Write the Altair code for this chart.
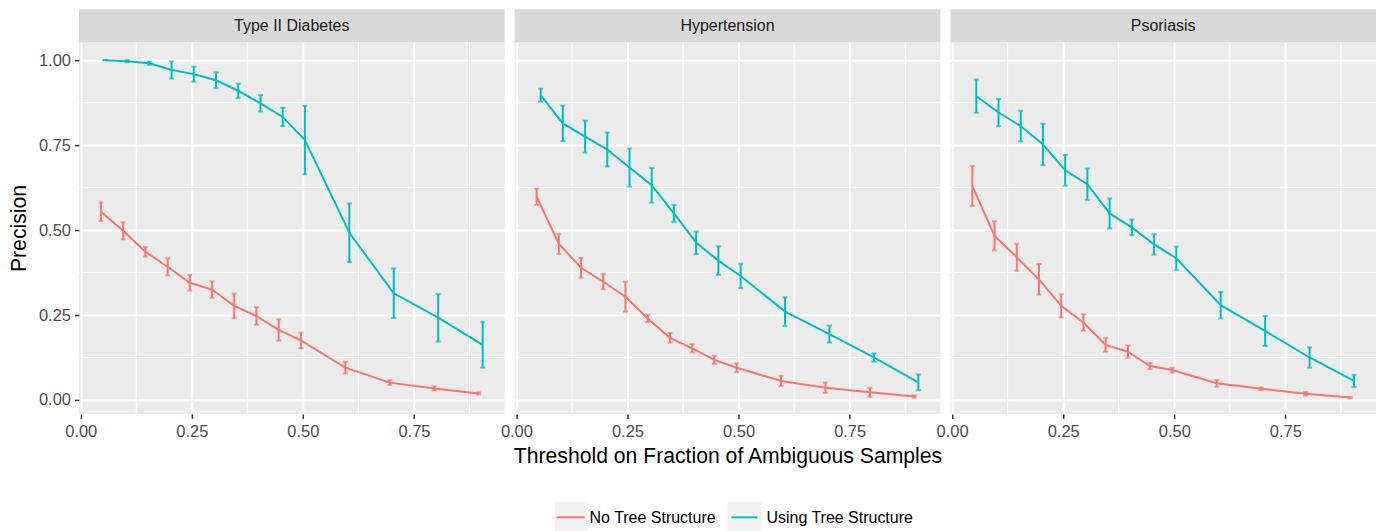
import altair as alt
import pandas as pd

# ---------------- data ----------------
panels = ["Type II Diabetes", "Hypertension", "Psoriasis"]
series = ["No Tree Structure", "Using Tree Structure"]
colors = ["#F8766D", "#00BFC4"]
thresholds = [0.05, 0.1, 0.15, 0.2, 0.25, 0.3, 0.35, 0.4, 0.45, 0.5, 0.6, 0.7, 0.8, 0.9]

t2d_no = [0.554, 0.498, 0.436, 0.392, 0.345, 0.325, 0.277, 0.247, 0.206, 0.175, 0.095, 0.051, 0.034, 0.019]
t2d_no_err = [0.027, 0.025, 0.014, 0.025, 0.023, 0.024, 0.036, 0.026, 0.031, 0.023, 0.017, 0.007, 0.006, 0.003]
t2d_tree = [1.0, 0.997, 0.991, 0.971, 0.959, 0.941, 0.910, 0.873, 0.833, 0.765, 0.492, 0.314, 0.242, 0.162]
t2d_tree_err = [0.0, 0.003, 0.005, 0.025, 0.022, 0.023, 0.021, 0.024, 0.027, 0.101, 0.086, 0.073, 0.070, 0.067]

hyp_no = [0.598, 0.459, 0.389, 0.348, 0.304, 0.240, 0.183, 0.152, 0.118, 0.095, 0.056, 0.036, 0.023, 0.010]
hyp_no_err = [0.024, 0.029, 0.029, 0.022, 0.044, 0.011, 0.014, 0.012, 0.012, 0.013, 0.015, 0.015, 0.013, 0.003]
hyp_tree = [0.897, 0.814, 0.775, 0.737, 0.684, 0.632, 0.549, 0.463, 0.410, 0.365, 0.260, 0.194, 0.125, 0.052]
hyp_tree_err = [0.019, 0.052, 0.047, 0.050, 0.056, 0.051, 0.025, 0.033, 0.042, 0.036, 0.042, 0.025, 0.012, 0.023]

pso_no = [0.630, 0.483, 0.420, 0.355, 0.277, 0.228, 0.162, 0.142, 0.100, 0.088, 0.049, 0.033, 0.018, 0.007]
pso_no_err = [0.059, 0.043, 0.040, 0.045, 0.034, 0.024, 0.020, 0.018, 0.009, 0.007, 0.010, 0.004, 0.005, 0.002]
pso_tree = [0.894, 0.846, 0.806, 0.752, 0.676, 0.635, 0.549, 0.508, 0.458, 0.417, 0.279, 0.203, 0.125, 0.056]
pso_tree_err = [0.049, 0.040, 0.045, 0.061, 0.045, 0.046, 0.044, 0.023, 0.030, 0.034, 0.039, 0.044, 0.030, 0.018]

x_ticks = [0.0, 0.25, 0.5, 0.75]
y_ticks = [0.0, 0.25, 0.5, 0.75, 1.0]
x_minor = [0.125, 0.375, 0.625, 0.875]
y_minor = [0.125, 0.375, 0.625, 0.875]

values = {
    panels[0]: [(t2d_no, t2d_no_err), (t2d_tree, t2d_tree_err)],
    panels[1]: [(hyp_no, hyp_no_err), (hyp_tree, hyp_tree_err)],
    panels[2]: [(pso_no, pso_no_err), (pso_tree, pso_tree_err)],
}

rows = []
for p in panels:
    for s, (prec, err) in zip(series, values[p]):
        for x, v, e in zip(thresholds, prec, err):
            rows.append({"panel": p, "series": s, "x": x, "prec": v, "err": e})
df = pd.DataFrame(rows)

# ---------------- style ----------------
FONT = "Liberation Sans"
W = 426          # panel width
H = 372          # panel height
SH = 33          # strip height
xdom = [-0.004, 0.954]
ydom = [-0.041, 1.053]
LABEL_FS = 16.5
TITLE_FS = 21.2

color_scale = alt.Scale(domain=series, range=colors)


def strip_layers(i):
    d = pd.DataFrame({"p": [panels[i]]})
    bg = alt.Chart(d).mark_rect(color="#D9D9D9", clip=False).encode(
        x=alt.value(0), x2=alt.value(W), y=alt.value(-SH), y2=alt.value(0)
    )
    txt = alt.Chart(d).mark_text(
        font=FONT, fontSize=16, color="#1A1A1A", baseline="middle", align="center",
        clip=False,
    ).encode(text="p:N", x=alt.value(W / 2), y=alt.value(-SH / 2 + 0.5))
    return [bg, txt]


def legend_layers():
    box_x = [(40, 73), (213, 247)]
    line_x = [(42, 70), (217, 243)]
    text_x = [75, 252]
    top = 460
    LH = 31
    layers = []
    for i, s in enumerate(series):
        d = pd.DataFrame({"s": [s]})
        layers.append(alt.Chart(d).mark_rect(color="#F2F2F2", clip=False).encode(
            x=alt.value(box_x[i][0]), x2=alt.value(box_x[i][1]),
            y=alt.value(top), y2=alt.value(top + LH)))
        layers.append(alt.Chart(d).mark_rule(color=colors[i], strokeWidth=2, clip=False).encode(
            x=alt.value(line_x[i][0]), x2=alt.value(line_x[i][1]),
            y=alt.value(top + LH / 2)))
        layers.append(alt.Chart(d).mark_text(
            font=FONT, fontSize=16, color="black", align="left", baseline="middle",
            clip=False,
        ).encode(text="s:N", x=alt.value(text_x[i]), y=alt.value(top + LH / 2 + 0.5)))
    return layers


def panel_chart(i):
    name = panels[i]
    xs = alt.Scale(domain=xdom, nice=False, zero=False)
    ys = alt.Scale(domain=ydom, nice=False, zero=False)
    xaxis = alt.Axis(
        values=x_ticks, format=".2f", grid=True, gridColor="white", gridWidth=2,
        domain=False, tickColor="#333333", tickSize=4.5, tickWidth=1.5,
        labelColor="#4D4D4D", labelFontSize=LABEL_FS, labelFont=FONT, labelPadding=5,
        title="Threshold on Fraction of Ambiguous Samples" if i == 1 else None,
        titleFontSize=TITLE_FS, titleFont=FONT, titleFontWeight="normal",
        titleColor="black", titlePadding=6,
    )
    if i == 0:
        yaxis = alt.Axis(
            values=y_ticks, format=".2f", grid=True, gridColor="white", gridWidth=2,
            domain=False, tickColor="#333333", tickSize=4.5, tickWidth=1.5,
            labelColor="#4D4D4D", labelFontSize=LABEL_FS, labelFont=FONT, labelPadding=4,
            title="Precision", titleFontSize=TITLE_FS, titleFont=FONT,
            titleFontWeight="normal", titleColor="black", titlePadding=9,
        )
    else:
        yaxis = alt.Axis(
            values=y_ticks, grid=True, gridColor="white", gridWidth=2,
            domain=False, ticks=False, labels=False, title=None,
        )

    minor_x = alt.Chart(pd.DataFrame({"v": x_minor})).mark_rule(
        color="white", strokeWidth=1
    ).encode(x=alt.X("v:Q", scale=xs, axis=xaxis))
    minor_y = alt.Chart(pd.DataFrame({"v": y_minor})).mark_rule(
        color="white", strokeWidth=1
    ).encode(y=alt.Y("v:Q", scale=ys, axis=yaxis))

    base = alt.Chart(df[df["panel"] == name]).transform_calculate(
        xd="datum.x + (datum.series == '%s' ? -0.0045 : 0.0045)" % series[0],
        lo="datum.prec - datum.err",
        hi="datum.prec + datum.err",
    )
    col = alt.Color("series:N", scale=color_scale, legend=None)
    X = alt.X("xd:Q", scale=xs, axis=xaxis)

    line = base.mark_line(strokeWidth=2).encode(
        x=X, y=alt.Y("prec:Q", scale=ys, axis=yaxis), color=col
    )
    bars = base.mark_rule(strokeWidth=2).encode(
        x=X, y=alt.Y("lo:Q", scale=ys, axis=yaxis), y2="hi:Q", color=col
    )
    cap_lo = base.mark_tick(orient="horizontal", size=5, thickness=2).encode(
        x=X, y=alt.Y("lo:Q", scale=ys, axis=yaxis), color=col
    )
    cap_hi = base.mark_tick(orient="horizontal", size=5, thickness=2).encode(
        x=X, y=alt.Y("hi:Q", scale=ys, axis=yaxis), color=col
    )
    layers = [minor_x, minor_y, line, bars, cap_lo, cap_hi] + strip_layers(i)
    if i == 1:
        layers += legend_layers()
    return alt.layer(*layers).properties(
        width=W, height=H, view=alt.ViewBackground(fill="#EBEBEB", stroke=None)
    )


chart = alt.hconcat(
    *[panel_chart(i) for i in range(3)], spacing=10, bounds="flush"
).properties(
    padding={"left": 0, "top": 1, "right": 0, "bottom": 0}
).configure_view(stroke=None).configure(font=FONT)

chart.save("out.html", embed_options={"renderer": "svg", "actions": False})
